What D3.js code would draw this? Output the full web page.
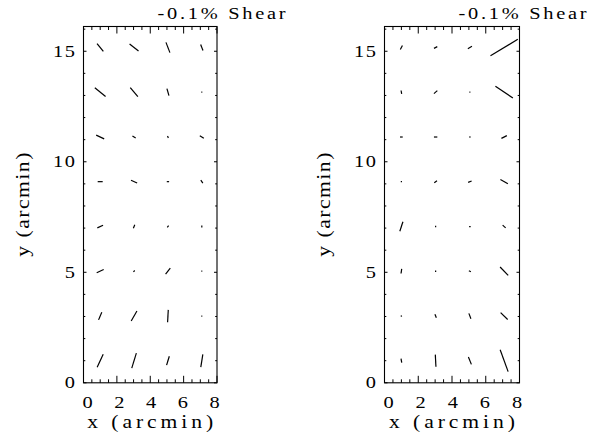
<!DOCTYPE html>
<html>
<head>
<meta charset="utf-8">
<script src="https://cdn.jsdelivr.net/npm/d3@7"></script>
<style>
  html, body { margin: 0; padding: 0; background: #fff; }
  svg { display: block; }
  text { font-family: "Liberation Serif", serif; font-weight: normal; fill: #000; }
</style>
</head>
<body>
<svg id="chart" width="607" height="434"></svg>
<script>
// Grid of measurement positions (arcmin)
const xCols = [1.0, 3.03, 5.06, 7.09];
const yRows = [1.0, 3.02, 5.05, 7.07, 9.1, 11.12, 13.15, 15.17];

// Stick lengths (arcmin) and position angles (deg, counter-clockwise from +x),
// one row per yRows entry (bottom to top), one column per xCols entry.
const leftLen = [
  [0.86, 0.94, 0.56, 0.77],
  [0.50, 0.69, 0.74, 0.05],
  [0.46, 0.11, 0.46, 0.06],
  [0.38, 0.22, 0.13, 0.12],
  [0.30, 0.40, 0.14, 0.22],
  [0.53, 0.23, 0.12, 0.29],
  [0.83, 0.71, 0.44, 0.06],
  [0.60, 0.68, 0.66, 0.38]
];
const leftAng = [
  [65, 73, 73, 81],
  [67, 60, 87, 0],
  [25, 45, 52, 0],
  [25, 68, 52, 90],
  [0, -24, 0, -56],
  [-25, -31, -60, -34],
  [-39, -50, -74, 0],
  [-51, -38, -69, -69]
];
const rightLen = [
  [0.24, 0.72, 0.47, 1.38],
  [0.08, 0.22, 0.34, 0.58],
  [0.28, 0.09, 0.13, 0.69],
  [0.59, 0.09, 0.09, 0.24],
  [0.08, 0.20, 0.22, 0.51],
  [0.16, 0.20, 0.10, 0.36],
  [0.20, 0.27, 0.06, 1.25],
  [0.27, 0.22, 0.28, 1.89]
];
const rightAng = [
  [-80, -87, -68, -70],
  [0, -68, -69, -44],
  [82, 90, -27, -46],
  [72, 90, 0, -42],
  [90, 37, 22, -30],
  [0, 0, 0, 27],
  [-80, 42, 0, -34],
  [63, 27, 30, 31]
];

const xTicks = [0, 2, 4, 6, 8];
const yTicks = [0, 5, 10, 15];
const xMinor = d3.range(0, 8.001, 0.5);
const yMinor = d3.range(0, 16.001, 1);
const titleText = "-0.1% Shear";
const xLabel = "x (arcmin)";
const yLabel = "y (arcmin)";

const svg = d3.select("#chart");
const WIDEN = 1.2; // horizontal glyph stretch for the wide plotting font look

// Text helper: places a string at (x, y), optionally rotated, widened and fitted to a width.
function addText(g, x, y, str, opt) {
  const t = g.append("text")
    .attr("transform", `translate(${x},${y})${opt.rotate ? ` rotate(${opt.rotate})` : ""} scale(${WIDEN},1)`)
    .attr("text-anchor", opt.anchor || "start")
    .attr("font-size", opt.size)
    .text(str);
  if (opt.width) t.attr("textLength", opt.width / WIDEN).attr("lengthAdjust", "spacing");
  return t;
}

const panels = [
  { x0: 83.5, x1: 217, len: leftLen, ang: leftAng },
  { x0: 384.5, x1: 519.5, len: rightLen, ang: rightAng }
];

const yTop = 26.5, yBot = 382.8;

panels.forEach(p => {
  const xs = d3.scaleLinear().domain([0, 8]).range([p.x0, p.x1]);
  const ys = d3.scaleLinear().domain([0, 16.12]).range([yBot, yTop]);
  const g = svg.append("g");

  // frame
  g.append("rect")
    .attr("x", p.x0).attr("y", yTop)
    .attr("width", p.x1 - p.x0).attr("height", yBot - yTop)
    .attr("fill", "none").attr("stroke", "#000").attr("stroke-width", 1.1);

  // ticks on all four sides, pointing inward
  const xMaj = 7, xMin = 3.5, yMaj = 3, yMin = 1.8;
  xMinor.forEach(v => {
    const L = xTicks.includes(v) ? xMaj : xMin;
    const px = xs(v);
    g.append("line").attr("x1", px).attr("x2", px).attr("y1", yBot).attr("y2", yBot - L)
      .attr("stroke", "#000").attr("stroke-width", 1);
    g.append("line").attr("x1", px).attr("x2", px).attr("y1", yTop).attr("y2", yTop + L)
      .attr("stroke", "#000").attr("stroke-width", 1);
  });
  yMinor.forEach(v => {
    const L = yTicks.includes(v) ? yMaj : yMin;
    const py = ys(v);
    g.append("line").attr("x1", p.x0).attr("x2", p.x0 + L).attr("y1", py).attr("y2", py)
      .attr("stroke", "#000").attr("stroke-width", 1);
    g.append("line").attr("x1", p.x1).attr("x2", p.x1 - L).attr("y1", py).attr("y2", py)
      .attr("stroke", "#000").attr("stroke-width", 1);
  });

  // tick labels
  xTicks.forEach(d => addText(g, xs(d) + 4 - 0.8 * d, 407.5, String(d), { size: 17, anchor: "middle" }));
  yTicks.forEach(d => addText(g, p.x0 - 8.5, ys(d) + 5.5, String(d),
    { size: 17, anchor: "end", width: d >= 10 ? 22 : null }));

  // axis titles
  addText(g, (p.x0 + p.x1) / 2, 427.5, xLabel, { size: 18, anchor: "middle", width: 126 });
  addText(g, p.x0 - 54.5, (yTop + yBot) / 2, yLabel, { size: 18, anchor: "middle", width: 104, rotate: -90 });

  // panel title
  addText(g, p.x0 + 74, 18.5, titleText, { size: 17, width: 128 });

  // shear sticks
  const sticks = [];
  yRows.forEach((yv, i) => xCols.forEach((xv, j) => {
    sticks.push({ x: xv, y: yv, len: p.len[i][j], ang: p.ang[i][j] });
  }));
  g.selectAll(".stick").data(sticks).enter().append("line")
    .attr("class", "stick")
    .each(function (d) {
      const h = Math.max((xs(d.len) - xs(0)) / 2, 0.5);
      const a = d.ang * Math.PI / 180;
      const cx = xs(d.x), cy = ys(d.y);
      d3.select(this)
        .attr("x1", cx - h * Math.cos(a)).attr("y1", cy + h * Math.sin(a))
        .attr("x2", cx + h * Math.cos(a)).attr("y2", cy - h * Math.sin(a));
    })
    .attr("stroke", "#000").attr("stroke-width", 1.2).attr("stroke-linecap", "butt");
});
</script>
</body>
</html>
